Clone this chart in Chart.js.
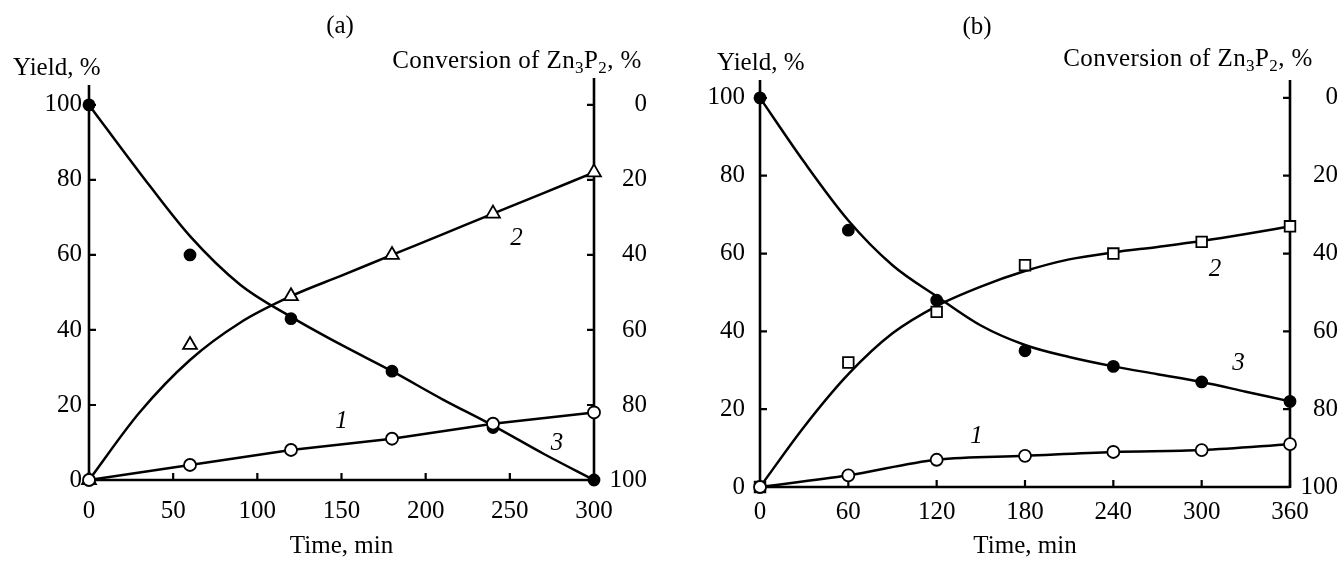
<!DOCTYPE html>
<html>
<head>
<meta charset="utf-8">
<script src="https://cdn.jsdelivr.net/npm/chart.js@4.4.1/dist/chart.umd.min.js"></script>
<style>
  body { margin: 0; background: #fff; width: 1338px; height: 561px; overflow: hidden; position: relative;
         font-family: "Liberation Serif", "Times New Roman", serif; }
  canvas { position: absolute; top: 0; }
  .t { position: absolute; font-size: 25px; line-height: 25px; white-space: nowrap; color: #000; }
  .c { transform: translateX(-50%); }
  .t sub { font-size: 17px; line-height: 0; vertical-align: -5px; }
</style>
</head>
<body>
<canvas id="ca" width="647" height="561" style="left:0"></canvas>
<canvas id="cb" width="669" height="561" style="left:669px"></canvas>

<div class="t c" style="left:340px;top:12px">(a)</div>
<div class="t" style="left:13px;top:54px">Yield, %</div>
<div class="t c" style="left:517px;top:47px;letter-spacing:0.4px">Conversion of Zn<sub>3</sub>P<sub>2</sub>, %</div>

<div class="t c" style="left:977px;top:13px">(b)</div>
<div class="t" style="left:717px;top:49px">Yield, %</div>
<div class="t c" style="left:1188px;top:45px;letter-spacing:0.4px">Conversion of Zn<sub>3</sub>P<sub>2</sub>, %</div>

<script>
// (a)
const timeA = [0, 60, 120, 180, 240, 300];
const a1 = [0, 4, 8, 11, 15, 18];
const a2 = [0, 36, 49, 60, 71, 82];
const a3 = [100, 60, 43, 29, 14, 0];
const fitTimeA = [0, 30, 60, 90, 120, 150, 180, 210, 240, 270, 300];
const fitA2 = [0, 18, 32, 42, 49, 54.5, 60, 65.5, 71, 76.5, 82];
const fitA3 = [100, 82, 65, 52, 43.5, 36, 29, 21.5, 14.5, 7, 0];
const xTicksA = [0, 50, 100, 150, 200, 250, 300];

// (b)
const timeB = [0, 60, 120, 180, 240, 300, 360];
const b1 = [0, 3, 7, 8, 9, 9.5, 11];
const b2 = [0, 32, 45, 57, 60, 63, 67];
const b3 = [100, 66, 48, 35, 31, 27, 22];
const fitTimeB = [0, 30, 60, 90, 120, 150, 180, 210, 240, 270, 300, 330, 360];
const fitB2 = [0, 15.5, 29, 39.5, 46.5, 51.5, 55.5, 58.5, 60.3, 61.7, 63.2, 65, 67];
const fitB3 = [100, 83.5, 68.5, 57, 49, 41.5, 36.5, 33.4, 31, 29, 27, 24.5, 22];
const xTicksB = [0, 60, 120, 180, 240, 300, 360];

const yieldTicks = [0, 20, 40, 60, 80, 100];
const convTicks = [0, 20, 40, 60, 80, 100];

// curve numbers
const curveNames = ['1', '2', '3'];
const curveXA = [150, 254, 278];
const curveYA = [15.5, 64.5, 9.8];
const curveXB = [147, 309, 325];
const curveYB = [13.1, 55.8, 31.8];

const FONT = '"Liberation Serif", "Times New Roman", serif';

const pts = (xs, ys) => xs.map((x, i) => ({ x, y: ys[i] }));

const frame = {
  id: 'frame',
  beforeDatasetsDraw(chart, args, opts) {
    const { ctx, chartArea: a, scales } = chart;
    ctx.save();
    ctx.strokeStyle = '#000';
    ctx.lineWidth = 2.6;
    ctx.beginPath();
    ctx.moveTo(a.left, a.top); ctx.lineTo(a.left, a.bottom + 1);
    ctx.moveTo(a.right, a.top - opts.rightExtra); ctx.lineTo(a.right, a.bottom + 1);
    ctx.moveTo(a.left, a.bottom); ctx.lineTo(a.right, a.bottom);
    ctx.stroke();
    ctx.lineWidth = 2.2;
    ctx.beginPath();
    scales.x.ticks.forEach(t => {
      const p = scales.x.getPixelForValue(t.value);
      ctx.moveTo(p, a.bottom); ctx.lineTo(p, a.bottom - 7);
    });
    scales.y.ticks.forEach(t => {
      const p = scales.y.getPixelForValue(t.value);
      ctx.moveTo(a.left, p); ctx.lineTo(a.left + 7, p);
    });
    scales.y2.ticks.forEach(t => {
      const p = scales.y2.getPixelForValue(t.value);
      ctx.moveTo(a.right, p); ctx.lineTo(a.right - 7, p);
    });
    ctx.stroke();
    ctx.restore();
  },
  afterDatasetsDraw(chart, args, opts) {
    const { ctx, scales } = chart;
    ctx.save();
    ctx.fillStyle = '#000';
    ctx.font = 'italic 25px ' + FONT;
    ctx.textAlign = 'center';
    ctx.textBaseline = 'middle';
    curveNames.forEach((n, i) => {
      ctx.fillText(n, scales.x.getPixelForValue(opts.xs[i]), scales.y.getPixelForValue(opts.ys[i]));
    });
    ctx.restore();
  }
};

function makeChart(id, c) {
  const fitLine = (data) => ({
    data, showLine: true, borderColor: '#000', borderWidth: 2.5, pointRadius: 0, fill: false,
    cubicInterpolationMode: 'monotone', order: 2, clip: false
  });
  const marks = (data, style, r, filled, line, smooth) => ({
    data, showLine: line, borderColor: '#000', borderWidth: line ? 2.5 : 0,
    pointStyle: style, pointRadius: r, pointBorderWidth: 1.8,
    pointBorderColor: '#000', pointBackgroundColor: filled ? '#000' : '#fff',
    cubicInterpolationMode: smooth ? 'monotone' : 'default', order: 1, clip: false
  });
  const tickFont = { family: FONT, size: 25 };
  const noGrid = { display: false, drawTicks: false };
  return new Chart(document.getElementById(id), {
    type: 'scatter',
    data: {
      datasets: [
        fitLine(c.fit3),
        fitLine(c.fit2),
        marks(c.s1, 'circle', 6, false, true, c.smooth1),
        marks(c.s2, c.style2, c.r2, false, false, false),
        marks(c.s3, 'circle', 5.5, true, false, false)
      ]
    },
    options: {
      responsive: false,
      animation: false,
      events: [],
      layout: { padding: { top: c.top, left: 0, right: 0, bottom: 0 } },
      plugins: {
        legend: { display: false },
        tooltip: { enabled: false },
        frame: { rightExtra: c.rightExtra, xs: c.labelX, ys: c.labelY }
      },
      scales: {
        x: {
          type: 'linear', min: 0, max: c.xMax,
          grid: noGrid, border: { display: false },
          afterBuildTicks: s => { s.ticks = c.xTicks.map(v => ({ value: v })); },
          afterFit: s => { s.height = c.xHeight; },
          ticks: { font: tickFont, color: '#000', padding: c.xPad, maxRotation: 0, autoSkip: false },
          title: { display: true, text: 'Time, min', font: { family: FONT, size: 25 }, color: '#000', padding: 0 }
        },
        y: {
          type: 'linear', position: 'left', min: 0, max: c.yMax,
          grid: noGrid, border: { display: false },
          afterBuildTicks: s => { s.ticks = yieldTicks.map(v => ({ value: v })); },
          afterFit: s => { s.width = c.leftW; },
          ticks: { font: tickFont, color: '#000', padding: c.yPad }
        },
        y2: {
          type: 'linear', position: 'right', min: 100 - c.yMax, max: 100, reverse: true,
          grid: noGrid, border: { display: false },
          afterBuildTicks: s => { s.ticks = convTicks.map(v => ({ value: v })); },
          afterFit: s => { s.width = c.rightW; },
          ticks: { font: tickFont, color: '#000', padding: 13, crossAlign: 'far' }
        }
      }
    },
    plugins: [frame]
  });
}

makeChart('ca', {
  s1: pts(timeA, a1), s2: pts(timeA, a2), s3: pts(timeA, a3),
  fit2: pts(fitTimeA, fitA2), fit3: pts(fitTimeA, fitA3),
  style2: 'triangle', r2: 8, smooth1: false,
  xMax: 300, xTicks: xTicksA, yMax: 105.3,
  top: 85, leftW: 89, rightW: 53, xHeight: 81, xPad: 16, yPad: 7, rightExtra: 7,
  labelX: curveXA, labelY: curveYA
});

makeChart('cb', {
  s1: pts(timeB, b1), s2: pts(timeB, b2), s3: pts(timeB, b3),
  fit2: pts(fitTimeB, fitB2), fit3: pts(fitTimeB, fitB3),
  style2: 'rect', r2: 7.5, smooth1: true,
  xMax: 360, xTicks: xTicksB, yMax: 104.6,
  top: 80, leftW: 91, rightW: 48, xHeight: 74, xPad: 10, yPad: 15, rightExtra: 0,
  labelX: curveXB, labelY: curveYB
});
</script>
</body>
</html>
